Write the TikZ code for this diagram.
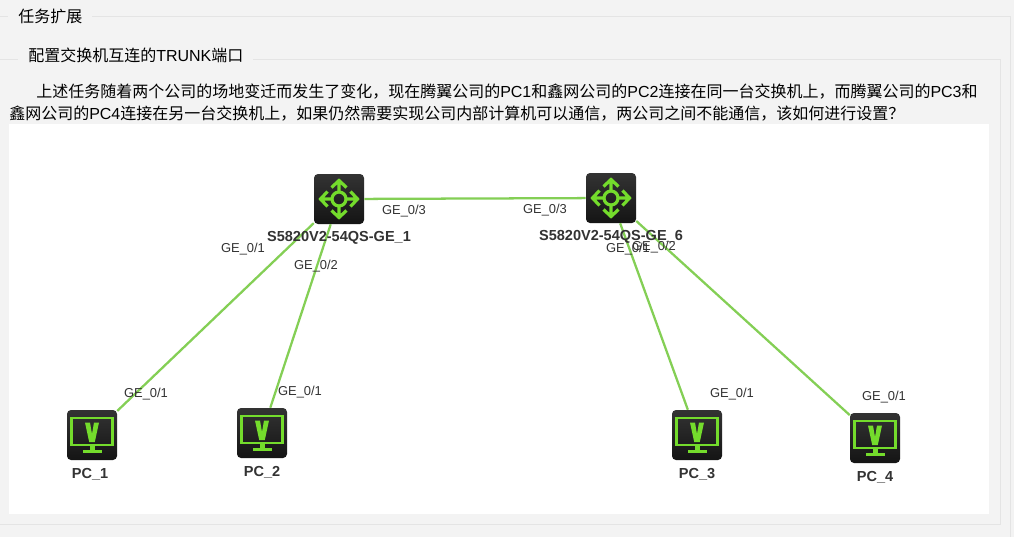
\documentclass[tikz,border=0pt]{standalone}
\usepackage{fontspec}
\setmainfont{Liberation Sans}
\newfontfamily\cjk{Noto Sans CJK SC}
\usetikzlibrary{positioning}
\definecolor{panelbg}{HTML}{F3F3F3}
\definecolor{framecol}{HTML}{E4E4E4}
\definecolor{linkcol}{HTML}{84CF55}
\definecolor{iconcol}{HTML}{74DC2C}
\definecolor{labelcol}{HTML}{333333}
\tikzset{
  device/.style={rectangle, rounded corners=3pt, minimum size=37.5pt, inner sep=0pt, top color=black!80, bottom color=black!92},
  devname/.style={font=\fontsize{10.9pt}{12pt}\selectfont\bfseries, text=labelcol, inner sep=0pt},
  port/.style={font=\fontsize{9.7pt}{11pt}\selectfont, text=labelcol, inner sep=0pt},
  heading/.style={font=\fontsize{12pt}{14pt}\selectfont, fill=panelbg, anchor=base west, inner ysep=2pt, inner xsep=7.5pt},
  body/.style={font=\fontsize{12pt}{14pt}\selectfont, anchor=base west, inner sep=0pt},
  link/.style={draw=linkcol, line width=1.7pt},
  swicon/.pic={
    \draw[iconcol, line width=2.4pt] (0,0) circle (7);
    \foreach \ang in {0,90,180,270}
      \draw[iconcol, line width=2.4pt, rotate=\ang, line join=miter] (7,0) -- (17,0) (11.5,-7.5) -- (18.5,0) -- (11.5,7.5);
  },
  pcicon/.pic={
    \draw[iconcol, line width=2.1pt] (-20.5,-17) rectangle (20.5,10);
    \fill[iconcol] (-7,-12.5) -- (-2,-12.5) -- (0,-1) -- (2,-12.5) -- (7,-12.5) -- (2.8,7) -- (-2.8,7) -- cycle;
    \fill[iconcol] (-2.5,11) rectangle (2.5,15);
    \fill[iconcol] (-9.5,15) rectangle (9.5,18);
  }
}
\begin{document}
\begin{tikzpicture}[x=0.75pt, y=-0.75pt]
\path[use as bounding box, fill=panelbg] (0,0) rectangle (1014,537);
\draw[framecol, line width=0.75pt] (0,16) -- (1010,16) -- (1010,537);
\draw[framecol, line width=0.75pt] (0,59) -- (1000,59) -- (1000,524) -- (0,524);
\fill[white] (9,124) rectangle (989,514);
\node[heading] (outertitle) at (8,22) {\cjk 任务扩展};
\node[heading] (innertitle) at (18,61) {{\cjk 配置交换机互连的}TRUNK{\cjk 端口}};
\node[body] (line1) at (36,97) {{\cjk 上述任务随着两个公司的场地变迁而发生了变化，现在腾翼公司的}PC1{\cjk 和鑫网公司的}PC2{\cjk 连接在同一台交换机上，而腾翼公司的}PC3{\cjk 和}};
\node[body] (line2) at (9,119) {{\cjk 鑫网公司的}PC4{\cjk 连接在另一台交换机上，如果仍然需要实现公司内部计算机可以通信，两公司之间不能通信，该如何进行设置？}};

\node[device] (S1) at (339,199) {};
\node[device] (S6) at (611,198) {};
\node[device] (PC1) at (92,435) {};
\node[device] (PC2) at (262,433) {};
\node[device] (PC3) at (697,435) {};
\node[device] (PC4) at (875,438) {};

\draw[link] (S1) -- (S6);
\draw[link] (S1) -- (PC1);
\draw[link] (S1) -- (PC2);
\draw[link] (S6) -- (PC3);
\draw[link] (S6) -- (PC4);

\pic at (S1) {swicon};
\pic at (S6) {swicon};
\foreach \pc in {PC1,PC2,PC3,PC4}
  \pic at (\pc) {pcicon};

\node[devname, below=5.2pt of S1] (S1name) {S5820V2-54QS-GE\_1};
\node[devname, below=5.2pt of S6] (S6name) {S5820V2-54QS-GE\_6};
\node[devname, below=6pt of PC1, xshift=-1.5pt] (PC1name) {PC\_1};
\node[devname, below=6pt of PC2] (PC2name) {PC\_2};
\node[devname, below=6pt of PC3] (PC3name) {PC\_3};
\node[devname, below=6pt of PC4] (PC4name) {PC\_4};

\node[port] (S1p1) at (243,249) {GE\_0/1};
\node[port] (S1p2) at (316,266) {GE\_0/2};
\node[port] (S1p3) at (404,211) {GE\_0/3};
\node[port] (S6p3) at (545,210) {GE\_0/3};
\node[port] (S6p1) at (628,249) {GE\_0/1};
\node[port] (S6p2) at (654,247) {GE\_0/2};
\node[port] (PC1p) at (146,394) {GE\_0/1};
\node[port] (PC2p) at (300,392) {GE\_0/1};
\node[port] (PC3p) at (732,394) {GE\_0/1};
\node[port] (PC4p) at (884,397) {GE\_0/1};
\end{tikzpicture}
\end{document}
